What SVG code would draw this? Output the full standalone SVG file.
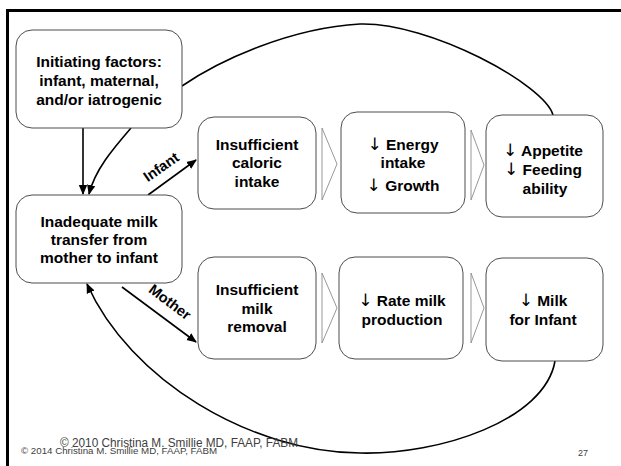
<svg xmlns="http://www.w3.org/2000/svg" width="621" height="466" viewBox="0 0 621 466">
<style>
.box{fill:#fff;stroke:#4d4d4d;stroke-width:1}
.chev{fill:#fff;stroke:#8c8c8c;stroke-width:0.9}
.t{font-family:"Liberation Sans",Arial,sans-serif;font-weight:bold;font-size:15.5px;fill:#000;text-anchor:middle}
.ar{font-family:"DejaVu Sans",sans-serif;font-weight:normal;font-size:17px;fill:#000}
.lbl{font-family:"Liberation Sans",Arial,sans-serif;font-weight:bold;font-size:14.5px;fill:#000;text-anchor:middle}
.ln{fill:none;stroke:#000;stroke-width:1.6}
.foot{font-family:"Liberation Sans",Arial,sans-serif;fill:#404040}
</style>
<defs>
<marker id="ah" markerUnits="userSpaceOnUse" markerWidth="10" markerHeight="10" refX="9" refY="5" orient="auto" viewBox="0 0 10 10">
<path d="M0,0.8 L10,5 L0,9.2 Z" fill="#000"/>
</marker>
</defs>
<path d="M7.5,466 V10.5 H621" fill="none" stroke="#000" stroke-width="3"/>

<g id="connectors">
<path class="ln" d="M182,86 C220,60 290,28 360,24 C430,22 545,85 553,115"/>
<path class="ln" d="M83,128 V194" marker-end="url(#ah)"/>
<path class="ln" d="M131,128 C112,150 95,170 89,194" marker-end="url(#ah)"/>
<path class="ln" d="M148,195 L196,160" marker-end="url(#ah)"/>
<path class="ln" d="M122,287 L196,342" marker-end="url(#ah)"/>
<path class="ln" d="M555,361 C545,420 440,455 360,453 C250,452 130,380 87,284" marker-end="url(#ah)"/>
<text class="lbl" transform="translate(164,171) rotate(-35)">Infant</text>
<text class="lbl" transform="translate(167,306) rotate(37)">Mother</text>
</g>

<g id="chevrons">
<path class="chev" d="M322,128 L337,164 L322,200 Z"/>
<path class="chev" d="M471,130 L484,165 L471,200 Z"/>
<path class="chev" d="M322,273 L337,308 L322,343 Z"/>
<path class="chev" d="M471,273 L484,308 L471,343 Z"/>
</g>

<g id="initiating">
<rect class="box" x="16" y="30" width="166" height="98" rx="16"/>
<text class="t" x="99" y="67">Initiating factors:</text>
<text class="t" x="99" y="86">infant, maternal,</text>
<text class="t" x="99" y="105">and/or iatrogenic</text>
</g>

<g id="inadequate">
<rect class="box" x="16" y="195" width="166" height="88" rx="16"/>
<text class="t" x="99" y="227">Inadequate milk</text>
<text class="t" x="99" y="245">transfer from</text>
<text class="t" x="99" y="263">mother to infant</text>
</g>

<g id="caloric">
<rect class="box" x="198" y="117" width="118" height="92" rx="16"/>
<text class="t" x="257" y="150">Insufficient</text>
<text class="t" x="257" y="168">caloric</text>
<text class="t" x="257" y="187">intake</text>
</g>

<g id="energy">
<rect class="box" x="341" y="112" width="124" height="101" rx="16"/>
<text class="t" x="403" y="150"><tspan class="ar">↓</tspan> Energy</text>
<text class="t" x="403" y="168">intake</text>
<text class="t" x="403" y="191"><tspan class="ar">↓</tspan> Growth</text>
</g>

<g id="appetite">
<rect class="box" x="486" y="115" width="117" height="102" rx="16"/>
<text class="t" x="543" y="156"><tspan class="ar">↓</tspan> Appetite</text>
<text class="t" x="543" y="175"><tspan class="ar">↓</tspan> Feeding</text>
<text class="t" x="545" y="194">ability</text>
</g>

<g id="removal">
<rect class="box" x="198" y="257" width="118" height="102" rx="16"/>
<text class="t" x="257" y="295">Insufficient</text>
<text class="t" x="257" y="314">milk</text>
<text class="t" x="257" y="332">removal</text>
</g>

<g id="rate">
<rect class="box" x="339" y="257" width="124" height="102" rx="16"/>
<text class="t" x="402" y="306"><tspan class="ar">↓</tspan> Rate milk</text>
<text class="t" x="402" y="325">production</text>
</g>

<g id="milk">
<rect class="box" x="486" y="258" width="117" height="103" rx="16"/>
<text class="t" x="543" y="306"><tspan class="ar">↓</tspan> Milk</text>
<text class="t" x="543" y="325">for Infant</text>
</g>

<text class="foot" x="60" y="447" font-size="12.5" textLength="238" lengthAdjust="spacingAndGlyphs">© 2010 Christina M. Smillie MD, FAAP, FABM</text>
<text class="foot" x="21" y="454" font-size="9.5" textLength="196" lengthAdjust="spacingAndGlyphs">© 2014 Christina M. Smillie MD, FAAP, FABM</text>
<text class="foot" x="578" y="456" font-size="9" fill="#595959">27</text>
</svg>
